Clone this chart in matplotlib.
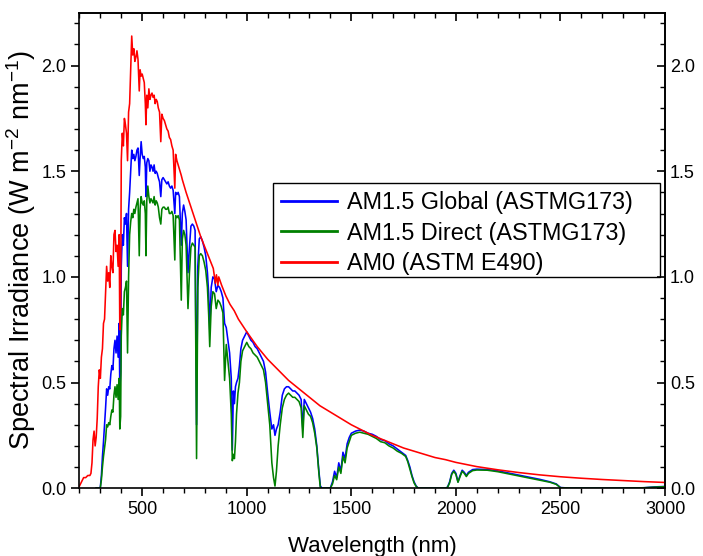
import matplotlib
matplotlib.use("Agg")
import matplotlib.pyplot as plt
from matplotlib.patches import Rectangle
from matplotlib.ticker import FixedLocator, MultipleLocator

plt.rcParams.update(
    {
        "font.family": ["Liberation Sans", "DejaVu Sans"],
        "font.size": 13,
        "axes.linewidth": 1.2,
        "mathtext.fontset": "custom",
        "mathtext.rm": "Liberation Sans",
    }
)

# AM0 (ASTM E490)
wl_am0 = [200, 210, 220, 230, 240, 250, 255, 260, 265, 270, 275, 280, 285, 290, 295,
          300, 305, 310, 315, 320, 325, 330, 335, 340, 345, 350, 355, 360, 365, 370,
          375, 380, 385, 390, 393, 397, 400, 405, 410, 415, 420, 425, 430, 435, 440,
          445, 450, 455, 460, 465, 470, 475, 480, 486, 490, 495, 500, 505, 510, 515,
          518, 522, 527, 532, 537, 542, 547, 552, 557, 562, 567, 572, 577, 583, 589,
          594, 600, 606, 612, 618, 624, 630, 636, 642, 648, 656, 660, 666, 672, 678,
          687, 692, 698, 710, 720, 730, 740, 750, 760, 780, 800, 820, 840, 850, 855,
          862, 866, 880, 900, 920, 940, 960, 980, 1000, 1050, 1100, 1150, 1200, 1250,
          1300, 1350, 1400, 1450, 1500, 1550, 1600, 1650, 1700, 1750, 1800, 1850, 1900,
          1950, 2000, 2100, 2200, 2300, 2400, 2500, 2600, 2700, 2800, 2900, 3000]
am0 = [0.01, 0.03, 0.05, 0.05, 0.06, 0.06, 0.07, 0.12, 0.23, 0.27, 0.20, 0.24, 0.33, 0.48, 0.56,
       0.52, 0.62, 0.66, 0.78, 0.80, 0.93, 1.05, 0.98, 1.02, 0.95, 1.10, 1.05, 1.02, 1.20, 1.22,
       1.12, 1.15, 1.05, 1.20, 0.75, 0.85, 1.55, 1.68, 1.62, 1.75, 1.72, 1.68, 1.55, 1.78, 1.82,
       1.98, 2.14, 2.05, 2.08, 2.02, 2.04, 2.07, 2.03, 1.88, 1.98, 1.95, 1.96, 1.94, 1.92, 1.82,
       1.72, 1.86, 1.80, 1.89, 1.84, 1.86, 1.87, 1.85, 1.86, 1.82, 1.84, 1.83, 1.80, 1.78, 1.64,
       1.77, 1.75, 1.74, 1.72, 1.70, 1.69, 1.66, 1.65, 1.62, 1.60, 1.42, 1.58, 1.55, 1.53, 1.51,
       1.48, 1.46, 1.44, 1.40, 1.37, 1.34, 1.31, 1.28, 1.25, 1.19, 1.14, 1.09, 1.04, 0.97, 1.01,
       0.96, 1.00, 0.96, 0.91, 0.87, 0.84, 0.80, 0.77, 0.74, 0.67, 0.61, 0.56, 0.51, 0.47,
       0.43, 0.39, 0.36, 0.33, 0.30, 0.275, 0.25, 0.23, 0.21, 0.19, 0.175, 0.16, 0.145,
       0.135, 0.122, 0.102, 0.087, 0.074, 0.063, 0.054, 0.047, 0.041, 0.036, 0.031, 0.027]

# AM1.5 Global / Direct (ASTM G173)
wl_g173 = [280, 290, 295, 300, 305, 310, 315, 320, 325, 330, 335, 340, 345, 350, 355, 360,
           365, 370, 375, 380, 385, 390, 393, 397,
           400, 405, 410, 415, 420, 425, 430, 435, 440, 445, 450, 455, 460, 465, 470, 475, 480,
           486, 490, 495, 500, 505, 510, 515, 518, 522, 527, 532, 537, 542, 547, 552, 557,
           562, 567, 572, 577, 583, 589,
           594, 600, 606, 612, 618, 624, 630, 636, 642, 648, 656, 660, 666, 672, 678,
           687, 692, 698, 704, 710, 719, 726, 733, 740, 747, 753, 760,
           766, 773, 780, 788, 796, 804, 812, 818, 823, 830, 838, 846, 854, 862, 870, 878,
           886, 894,
           902, 910, 918, 926, 931, 936, 941, 946, 951, 958, 965, 972, 980, 990, 1000,
           1010, 1020, 1030, 1040, 1050, 1060, 1070, 1080, 1090, 1100, 1110,
           1120, 1128, 1135, 1142, 1150, 1160, 1170, 1180, 1190, 1200, 1210, 1220, 1230,
           1240, 1250, 1260, 1268,
           1275, 1285, 1295, 1305, 1315, 1325, 1335, 1345, 1352,
           1360, 1380, 1400, 1410, 1420, 1430, 1440, 1450, 1460, 1470, 1480, 1490, 1500,
           1520, 1540, 1560, 1580, 1600, 1620, 1640, 1660, 1680, 1700, 1720, 1740, 1760,
           1770, 1780, 1790, 1800, 1810, 1820,
           1850, 1900, 1950, 1960, 1970, 1980, 1990, 2000, 2010, 2020, 2030, 2040, 2050,
           2060, 2080, 2100,
           2150, 2200, 2250, 2300, 2350, 2400, 2450, 2480, 2500, 2550, 2600, 2700, 2800,
           2900, 2950, 3000]
am15_global = [0, 0, 0, 0.005, 0.06, 0.15, 0.22, 0.30, 0.38, 0.47, 0.44, 0.48, 0.47, 0.54, 0.58, 0.56,
               0.66, 0.70, 0.64, 0.72, 0.62, 0.78, 0.46, 0.55,
               1.05, 1.20, 1.15, 1.28, 1.25, 1.30, 1.05, 1.32, 1.40, 1.50, 1.60, 1.56, 1.58, 1.55, 1.57, 1.60, 1.61,
               1.48, 1.56, 1.64, 1.58, 1.56, 1.57, 1.52, 1.38, 1.54, 1.56, 1.55, 1.50, 1.53, 1.52, 1.50, 1.53,
               1.49, 1.50, 1.49, 1.47, 1.45, 1.38,
               1.46, 1.47, 1.46, 1.45, 1.44, 1.45, 1.43, 1.42, 1.43, 1.41, 1.30, 1.40, 1.39, 1.40, 1.38,
               1.15, 1.30, 1.34, 1.31, 1.27, 1.02, 1.14, 1.24, 1.25, 1.24, 1.22, 0.30,
               1.05, 1.18, 1.19, 1.17, 1.14, 1.10, 1.02, 0.92, 0.75, 0.95, 1.00, 0.99, 0.93, 0.96, 0.95, 0.93,
               0.90, 0.78,
               0.76, 0.70, 0.64, 0.52, 0.18, 0.46, 0.40, 0.48, 0.50, 0.52, 0.58, 0.66, 0.70, 0.72, 0.74,
               0.72, 0.70, 0.69, 0.67, 0.66, 0.64, 0.62, 0.60, 0.55, 0.45, 0.36,
               0.28, 0.30, 0.25, 0.28, 0.30, 0.36, 0.44, 0.47, 0.48, 0.48, 0.47, 0.46, 0.46,
               0.45, 0.44, 0.42, 0.28,
               0.42, 0.40, 0.38, 0.36, 0.33, 0.28, 0.20, 0.08, 0.01,
               0, 0, 0.002, 0.03, 0.08, 0.05, 0.12, 0.08, 0.17, 0.14, 0.21, 0.24, 0.26,
               0.27, 0.275, 0.27, 0.26, 0.255, 0.245, 0.23, 0.225, 0.21, 0.20, 0.185, 0.17, 0.155,
               0.13, 0.10, 0.06, 0.03, 0.01, 0.0,
               0, 0, 0, 0.005, 0.03, 0.07, 0.085, 0.07, 0.03, 0.06, 0.085, 0.075, 0.06,
               0.075, 0.088, 0.09,
               0.088, 0.082, 0.072, 0.062, 0.052, 0.042, 0.03, 0.02, 0.003, 0, 0, 0, 0,
               0.002, 0.006, 0.008]
am15_direct = [0, 0, 0, 0.003, 0.04, 0.10, 0.15, 0.19, 0.23, 0.30, 0.29, 0.31, 0.30, 0.34, 0.37, 0.36,
               0.44, 0.48, 0.43, 0.49, 0.42, 0.52, 0.28, 0.34,
               0.72, 0.85, 0.82, 0.93, 0.95, 0.98, 0.64, 1.00, 1.20, 1.26, 1.30, 1.28, 1.32, 1.30, 1.33, 1.35, 1.37,
               1.10, 1.32, 1.38, 1.35, 1.34, 1.36, 1.30, 1.10, 1.36, 1.43, 1.38, 1.35, 1.37, 1.36, 1.35, 1.38,
               1.34, 1.36, 1.35, 1.33, 1.28, 1.25,
               1.32, 1.33, 1.33, 1.32, 1.32, 1.33, 1.30, 1.30, 1.31, 1.29, 1.08, 1.29, 1.28, 1.29, 1.27,
               0.89, 1.18, 1.22, 1.20, 1.15, 0.85, 1.02, 1.14, 1.16, 1.15, 1.14, 0.14,
               0.95, 1.10, 1.11, 1.10, 1.07, 1.03, 0.95, 0.82, 0.67, 0.86, 0.93, 0.92, 0.85, 0.89, 0.88, 0.86,
               0.83, 0.51,
               0.68, 0.60, 0.52, 0.35, 0.13, 0.16, 0.14, 0.22, 0.35, 0.45, 0.50, 0.60, 0.65, 0.67, 0.69,
               0.67, 0.66, 0.64, 0.63, 0.62, 0.60, 0.58, 0.56, 0.50, 0.40, 0.30,
               0.12, 0.05, 0.01, 0.08, 0.20, 0.30, 0.38, 0.42, 0.44, 0.45, 0.44, 0.43, 0.43,
               0.42, 0.41, 0.38, 0.24,
               0.39, 0.37, 0.35, 0.34, 0.31, 0.26, 0.19, 0.07, 0.00,
               0, 0, 0, 0.02, 0.06, 0.04, 0.10, 0.07, 0.15, 0.12, 0.19, 0.22, 0.25,
               0.26, 0.265, 0.26, 0.255, 0.245, 0.235, 0.22, 0.215, 0.20, 0.19, 0.175, 0.165, 0.15,
               0.125, 0.09, 0.055, 0.025, 0.008, 0.0,
               0, 0, 0, 0.004, 0.025, 0.065, 0.08, 0.065, 0.028, 0.055, 0.08, 0.07, 0.055,
               0.07, 0.083, 0.086,
               0.085, 0.078, 0.068, 0.058, 0.048, 0.038, 0.028, 0.018, 0.002, 0, 0, 0, 0,
               0.002, 0.005, 0.007]

y_major = [0.0, 0.5, 1.0, 1.5, 2.0]
x_major = [500, 1000, 1500, 2000, 2500, 3000]

fig = plt.figure(figsize=(7.03, 5.56), dpi=100)
ax = fig.add_axes([0.113, 0.122, 0.946 - 0.113, 0.977 - 0.122])

ax.plot(wl_g173, am15_global, color="#0000ff", lw=1.15, label="AM1.5 Global (ASTMG173)")
ax.plot(wl_g173, am15_direct, color="#008000", lw=1.15, label="AM1.5 Direct (ASTMG173)")
ax.plot(wl_am0, am0, color="#ff0000", lw=1.15, label="AM0 (ASTM E490)")

ax.set_xlim(200, 3000)
ax.set_ylim(0, 2.25)
ax.xaxis.set_major_locator(FixedLocator(x_major))
ax.xaxis.set_minor_locator(MultipleLocator(100))
ax.yaxis.set_major_locator(FixedLocator(y_major))
ax.yaxis.set_minor_locator(MultipleLocator(0.1))
ax.yaxis.set_major_formatter(plt.FormatStrFormatter("%.1f"))
ax.tick_params(which="major", direction="out", length=6, width=1.2, labelsize=13)
ax.tick_params(which="minor", direction="out", length=3.5, width=1.0)

# mirrored axes: ticks pointing inward, labels only on the right
ax_r = ax.secondary_yaxis("right")
ax_r.yaxis.set_major_locator(FixedLocator(y_major))
ax_r.yaxis.set_minor_locator(MultipleLocator(0.1))
ax_r.yaxis.set_major_formatter(plt.FormatStrFormatter("%.1f"))
ax_r.tick_params(which="major", direction="in", length=6, width=1.2, labelsize=13)
ax_r.tick_params(which="minor", direction="in", length=3.5, width=1.0)

ax_t = ax.secondary_xaxis("top")
ax_t.xaxis.set_major_locator(FixedLocator(x_major))
ax_t.xaxis.set_minor_locator(MultipleLocator(100))
ax_t.tick_params(which="major", direction="in", length=6, width=1.2, labeltop=False)
ax_t.tick_params(which="minor", direction="in", length=3.5, width=1.0)

ax.set_xlabel("Wavelength (nm)", fontsize=16, labelpad=13)
ax.set_ylabel(r"Spectral Irradiance (W m$^{-2}$ nm$^{-1}$)", fontsize=19.5, labelpad=2)

# legend without its own frame; the box is drawn separately (wider on the right, like the original)
leg = ax.legend(loc="upper left", bbox_to_anchor=(0.331, 0.642), fontsize=16.8,
                frameon=False, handlelength=2.4, handletextpad=0.4, labelspacing=0.32,
                borderpad=0.35, borderaxespad=0)
for line in leg.get_lines():
    line.set_linewidth(2.0)
ax.add_patch(Rectangle((0.3305, 0.444), 0.991 - 0.3305, 0.642 - 0.444, transform=ax.transAxes,
                       fill=False, edgecolor="black", linewidth=1.0, zorder=5))

fig.savefig("out.png", dpi=100)
